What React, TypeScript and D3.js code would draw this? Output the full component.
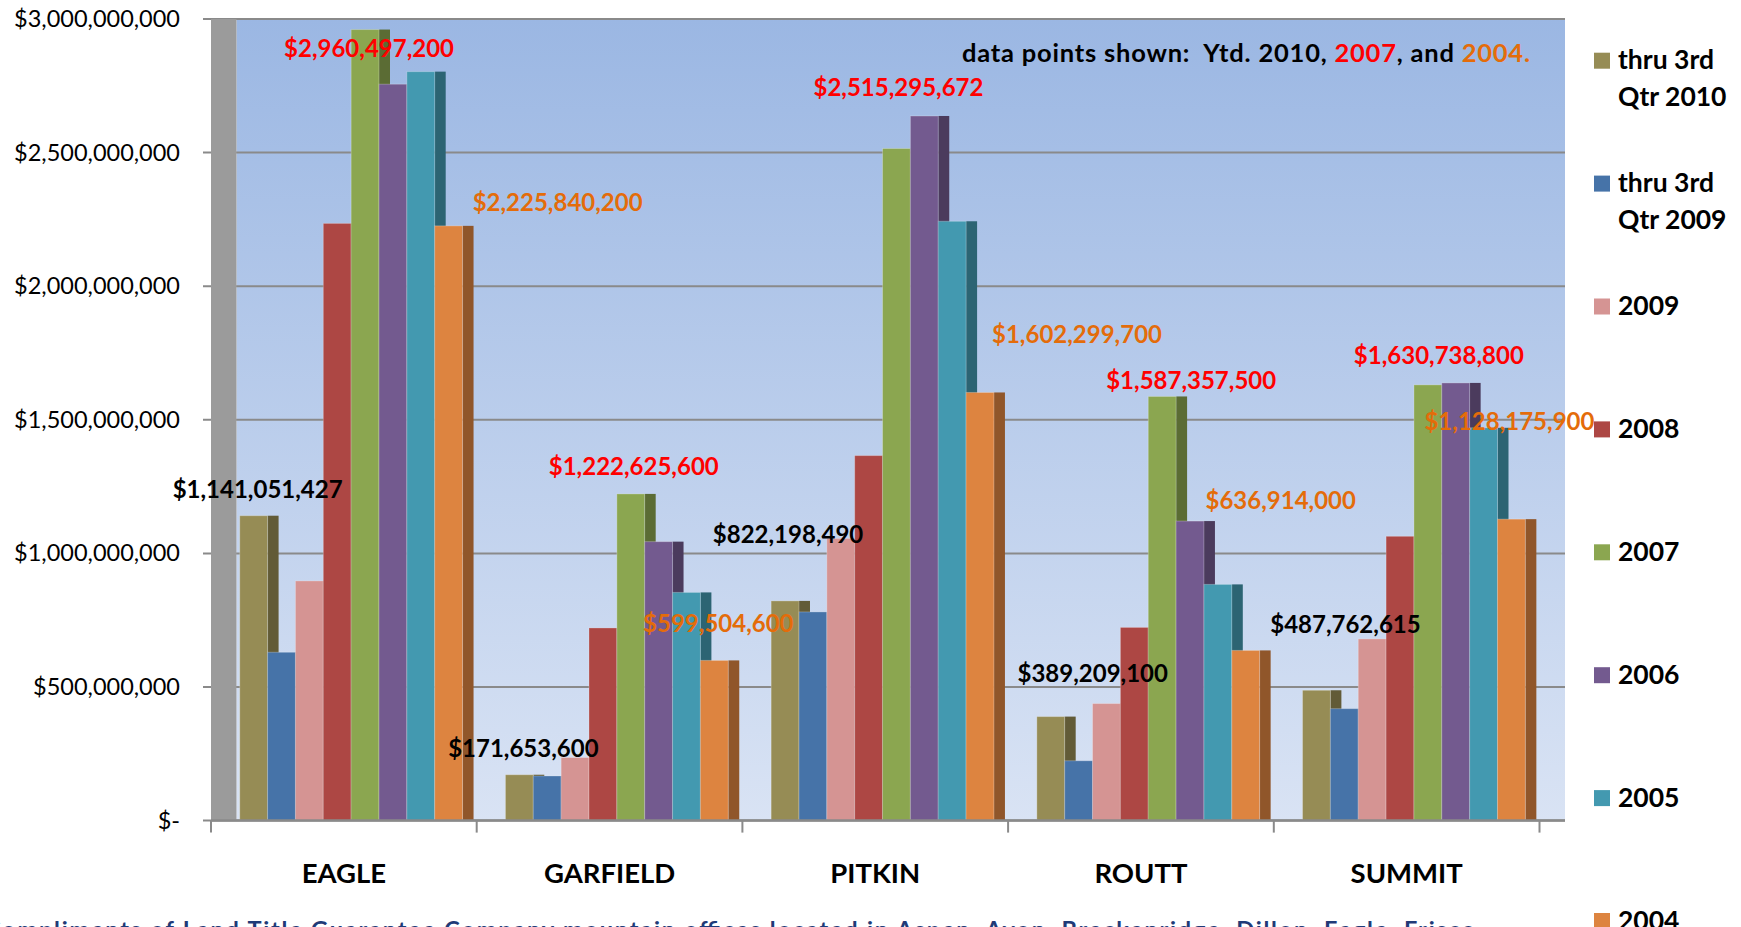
import * as d3 from "d3";

const WIDTH = 1741;
const HEIGHT = 927;
const FONT = "Lato, 'Open Sans', sans-serif";

const categories = ["EAGLE", "GARFIELD", "PITKIN", "ROUTT", "SUMMIT"];
const seriesNames = [
  "thru 3rd Qtr 2010",
  "thru 3rd Qtr 2009",
  "2009",
  "2008",
  "2007",
  "2006",
  "2005",
  "2004",
];
const seriesColors = [
  "#968C55", "#4673A8", "#D59493", "#AD4744",
  "#8BA650", "#735A8F", "#4399B0", "#DD8440",
];

// one array per series, in category order
const q3of2010 = [1141051427, 171653600, 822198490, 389209100, 487762615];
const q3of2009 = [630000000, 167000000, 781000000, 224000000, 419000000];
const year2009 = [897000000, 236000000, 1056000000, 438000000, 680000000];
const year2008 = [2235000000, 721000000, 1366000000, 723000000, 1064000000];
const year2007 = [2960497200, 1222625600, 2515295672, 1587357500, 1630738800];
const year2006 = [2756000000, 1044000000, 2637000000, 1121000000, 1638000000];
const year2005 = [2803000000, 854000000, 2243000000, 884000000, 1470000000];
const year2004 = [2225840200, 599504600, 1602299700, 636914000, 1128175900];
const seriesValues = [q3of2010, q3of2009, year2009, year2008, year2007, year2006, year2005, year2004];

const yTicks = [0, 500000000, 1000000000, 1500000000, 2000000000, 2500000000, 3000000000];

// series that carry printed values, with their text colour
const labeledSeries = [0, 4, 7];
const labelColors = ["#000000", "#FF0000", "#E46C0A"];
// hand placed offsets (label centre vs bar top centre), like the original sheet
const labelNudge = [
  [[4, -26], [4, -26], [3, -66], [42, -43], [29, -66]],
  [[4, 19], [3, -27], [2, -61], [29, -16], [11, -29]],
  [[109, -23], [4, -37], [97, -58], [35, -150], [-2, -98]],
];

const PLOT = { left: 211, wall: 25.5, right: 1565, top: 19, bottom: 820.6, floorRight: 1539.5 };
const BAR_DEPTH = 11;

const fmtMoney = (v: number) => (v === 0 ? "$-" : d3.format("$,")(v));

export default function App() {
  const x0 = d3.scaleBand().domain(categories).range([PLOT.left, PLOT.floorRight]).padding(0);
  const x1 = d3
    .scaleBand()
    .domain(seriesNames)
    .range([0, x0.bandwidth()])
    .paddingInner(0)
    .paddingOuter(0.77)
    .align(0.67);
  const y = d3.scaleLinear().domain([0, 3000000000]).range([PLOT.bottom, PLOT.top]);
  const legendY = d3.scaleLinear().domain([0, seriesNames.length - 1]).range([60.7, 921]);

  const bw = x1.bandwidth();

  return (
    <svg
      width={WIDTH}
      height={HEIGHT}
      style={{ position: "absolute", left: 0, top: 0, background: "#fff" }}
      fontFamily={FONT}
    >
      <defs>
        <linearGradient id="wallFill" x1="0" y1="0" x2="0" y2="1">
          <stop offset="0%" stopColor="#9BB7E3" />
          <stop offset="100%" stopColor="#D9E3F4" />
        </linearGradient>
      </defs>

      <rect
        x={PLOT.left + PLOT.wall}
        y={PLOT.top}
        width={PLOT.right - PLOT.left - PLOT.wall}
        height={PLOT.bottom - PLOT.top}
        fill="url(#wallFill)"
      />

      {yTicks.map((t) => (
        <g key={t}>
          <line x1={PLOT.left - 8} x2={PLOT.right} y1={y(t)} y2={y(t)} stroke="#8A8A8A" strokeWidth={2} />
          <text x={180} y={y(t) + 8} textAnchor="end" fontSize={23.5} fill="#000">
            {fmtMoney(t)}
          </text>
        </g>
      ))}

      <rect x={PLOT.left} y={PLOT.top} width={PLOT.wall} height={PLOT.bottom - PLOT.top} fill="#9B9B9B" />

      {categories.map((c, ci) => (
        <g key={c}>
          {seriesNames.map((s, si) => {
            const v = seriesValues[si][ci];
            const bx = (x0(c) ?? 0) + (x1(s) ?? 0);
            const by = y(v);
            const h = y(0) - by;
            const side = d3.color(seriesColors[si])!.darker(1.2).formatHex();
            return (
              <g key={s}>
                <rect x={bx + bw} y={by} width={BAR_DEPTH} height={h} fill={side} />
                <rect
                  x={bx}
                  y={by}
                  width={bw}
                  height={h}
                  fill={seriesColors[si]}
                  stroke="rgba(255,255,255,0.25)"
                  strokeWidth={1}
                />
              </g>
            );
          })}
        </g>
      ))}

      <line x1={PLOT.left} x2={PLOT.right} y1={y(0)} y2={y(0)} stroke="#8A8A8A" strokeWidth={2.5} />
      {[...categories.map((c) => x0(c) ?? 0), PLOT.floorRight].map((tx, i) => (
        <line key={i} x1={tx} x2={tx} y1={y(0)} y2={y(0) + 12} stroke="#8A8A8A" strokeWidth={2} />
      ))}

      {categories.map((c) => (
        <text
          key={c}
          x={(x0(c) ?? 0) + x0.bandwidth() / 2}
          y={883}
          textAnchor="middle"
          fontSize={27.5}
          fontWeight="bold"
          fill="#000"
        >
          {c}
        </text>
      ))}

      {labeledSeries.map((si, li) =>
        categories.map((c, ci) => {
          const v = seriesValues[si][ci];
          const cx = (x0(c) ?? 0) + (x1(seriesNames[si]) ?? 0) + bw / 2 + labelNudge[li][ci][0];
          const cy = y(v) + labelNudge[li][ci][1];
          return (
            <text
              key={`${si}-${c}`}
              x={cx}
              y={cy + 8.5}
              textAnchor="middle"
              fontSize={24}
              fontWeight="bold"
              fill={labelColors[li]}
            >
              {fmtMoney(v)}
            </text>
          );
        })
      )}

      <text
        x={962}
        y={61.7}
        fontSize={25.5}
        fontWeight="bold"
        textLength={568}
        style={{ whiteSpace: "pre" }}
      >
        <tspan fill="#000">{"data points shown:  Ytd. 2010, "}</tspan>
        <tspan fill="#FF0000">2007</tspan>
        <tspan fill="#000">{", and "}</tspan>
        <tspan fill="#E46C0A">2004.</tspan>
      </text>

      {seriesNames.map((s, si) => {
        const cy = legendY(si);
        const lines = s.replace("3rd ", "3rd\n").split("\n");
        return (
          <g key={s}>
            <rect x={1594} y={cy - 8} width={16} height={16} fill={seriesColors[si]} />
            {lines.map((ln, k) => (
              <text key={k} x={1618} y={cy + 8.6 + k * 36.4} fontSize={26.5} fontWeight="bold" fill="#000">
                {ln}
              </text>
            ))}
          </g>
        );
      })}

      <text
        x={-15}
        y={938}
        fontSize={23.5}
        fontWeight="bold"
        fill="#1F3B78"
        textLength={1490}
      >
        Compliments of Land Title Guarantee Company mountain offices located in Aspen, Avon, Breckenridge, Dillon, Eagle, Frisco
      </text>
    </svg>
  );
}
